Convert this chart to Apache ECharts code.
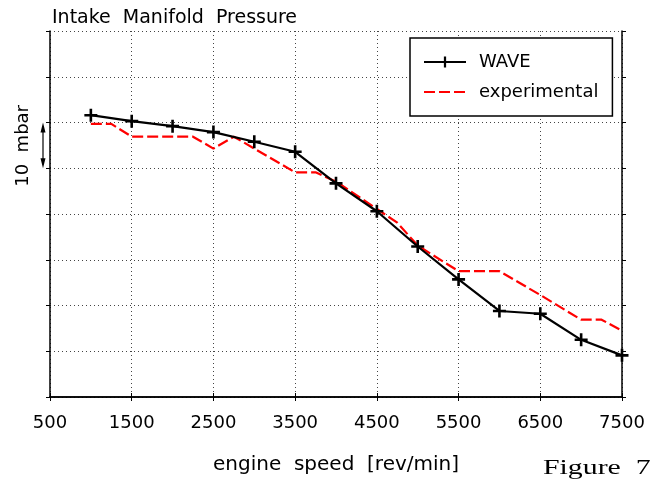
<!DOCTYPE html>
<html><head><meta charset="utf-8">
<script src="https://cdn.jsdelivr.net/npm/echarts@6/dist/echarts.min.js"></script>
<style>html,body{margin:0;padding:0;background:#fff}#c{width:658px;height:480px}</style>
</head><body><div id="c"></div>
<script>
const titleText = 'Intake  Manifold  Pressure';
const xAxisName = 'engine  speed  [rev/min]';
const yAxisName = '10  mbar';
const figureLabel = 'Figure  7';
const xTicks = [500, 1500, 2500, 3500, 4500, 5500, 6500, 7500];
const waveSpeed = [1000, 1500, 2000, 2500, 3000, 3500, 4000, 4500, 5000, 5500, 6000, 6500, 7000, 7500];
const waveValue = [6.16, 6.03, 5.92, 5.79, 5.58, 5.36, 4.67, 4.06, 3.29, 2.57, 1.88, 1.82, 1.25, 0.91];
const expSpeed = [1000, 1250, 1500, 2250, 2500, 2750, 3500, 3750, 4000, 4500, 4750, 5000, 5500, 6000, 6500, 7000, 7250, 7500];
const expValue = [5.97, 5.97, 5.69, 5.69, 5.43, 5.69, 4.91, 4.91, 4.71, 4.11, 3.81, 3.31, 2.75, 2.75, 2.23, 1.69, 1.69, 1.45];

const FONT = 'DejaVu Sans';
const plus = 'path://M4,0H6V4H10V6H6V10H4V6H0V4H4Z';
const chart = echarts.init(document.getElementById('c'), null, {renderer: 'canvas'});
const axisLine = {show: true, lineStyle: {color: '#000', width: 1.5}};
const tick = {show: true, inside: false, length: 4, lineStyle: {color: '#000', width: 1}};
const split = {show: true, lineStyle: {color: '#444', type: [1, 3], width: 1}};
const option = {
  backgroundColor: '#fff',
  animation: false,
  title: {text: titleText, left: 47, top: 4, textStyle: {fontFamily: FONT, fontSize: 19, fontWeight: 'normal', color: '#000'}},
  grid: {left: 50, right: 36, top: 31, bottom: 80},
  legend: {
    left: 410, top: 38, orient: 'vertical', backgroundColor: '#fff', borderColor: '#000', borderWidth: 1.5,
    padding: [15, 14, 15, 13], itemGap: 12, itemWidth: 42, itemHeight: 14,
    textStyle: {fontFamily: FONT, fontSize: 18, color: '#000', padding: [0, 0, 0, 8]},
    data: ['WAVE', 'experimental']
  },
  xAxis: [
    {type: 'value', min: 500, max: 7500, interval: 1000, position: 'bottom',
     axisLine, axisTick: tick, splitLine: split,
     axisLabel: {fontFamily: FONT, fontSize: 18, color: '#000', margin: 17,
       formatter: v => xTicks.includes(v) ? String(v) : ''},
     name: xAxisName, nameLocation: 'middle', nameGap: 58,
     nameTextStyle: {fontFamily: FONT, fontSize: 20, color: '#000'}},
    {type: 'value', min: 500, max: 7500, interval: 1000, position: 'top',
     axisLine, axisTick: tick, splitLine: {show: false}, axisLabel: {show: false}}
  ],
  yAxis: [
    {type: 'value', min: 0, max: 8, interval: 1, position: 'left',
     axisLine, axisTick: tick, splitLine: split, axisLabel: {show: false}},
    {type: 'value', min: 0, max: 8, interval: 1, position: 'right',
     axisLine, axisTick: tick, splitLine: {show: false}, axisLabel: {show: false}}
  ],
  series: [
    {name: 'experimental', type: 'line', xAxisIndex: 0, yAxisIndex: 0, z: 2,
     data: expSpeed.map((s, i) => [s, expValue[i]]), showSymbol: false, symbol: 'circle', symbolSize: 0,
     lineStyle: {color: '#ff0000', width: 2.2, type: [11, 4]}, itemStyle: {color: '#ff0000', opacity: 0}},
    {name: 'WAVE', type: 'line', xAxisIndex: 0, yAxisIndex: 0, z: 3,
     data: waveSpeed.map((s, i) => [s, waveValue[i]]), symbol: plus, symbolSize: 13,
     lineStyle: {color: '#000', width: 2.2}, itemStyle: {color: '#000'}}
  ]
};
chart.setOption(option);
const p6 = chart.convertToPixel({xAxisIndex: 0, yAxisIndex: 0}, [500, 6]);
const p5 = chart.convertToPixel({xAxisIndex: 0, yAxisIndex: 0}, [500, 5]);
const ax = p6[0] - 7;
chart.setOption({
  graphic: [
    {type: 'line', shape: {x1: ax, y1: p6[1] + 4, x2: ax, y2: p5[1] - 4}, style: {stroke: '#000', lineWidth: 1.2}},
    {type: 'polygon', shape: {points: [[ax - 2.5, p6[1] + 10], [ax, p6[1]], [ax + 2.5, p6[1] + 10]]}, style: {fill: '#000'}},
    {type: 'polygon', shape: {points: [[ax - 2.5, p5[1] - 10], [ax, p5[1]], [ax + 2.5, p5[1] - 10]]}, style: {fill: '#000'}},
    {type: 'text', left: 14, top: 105, rotation: Math.PI / 2,
     style: {text: yAxisName, font: '18px "DejaVu Sans"', fill: '#000'}},
    {type: 'text', left: 543, top: 458, scaleX: 1.42,
     style: {text: figureLabel, font: '21px "Liberation Serif"', fill: '#000'}}
  ]
});
</script></body></html>
